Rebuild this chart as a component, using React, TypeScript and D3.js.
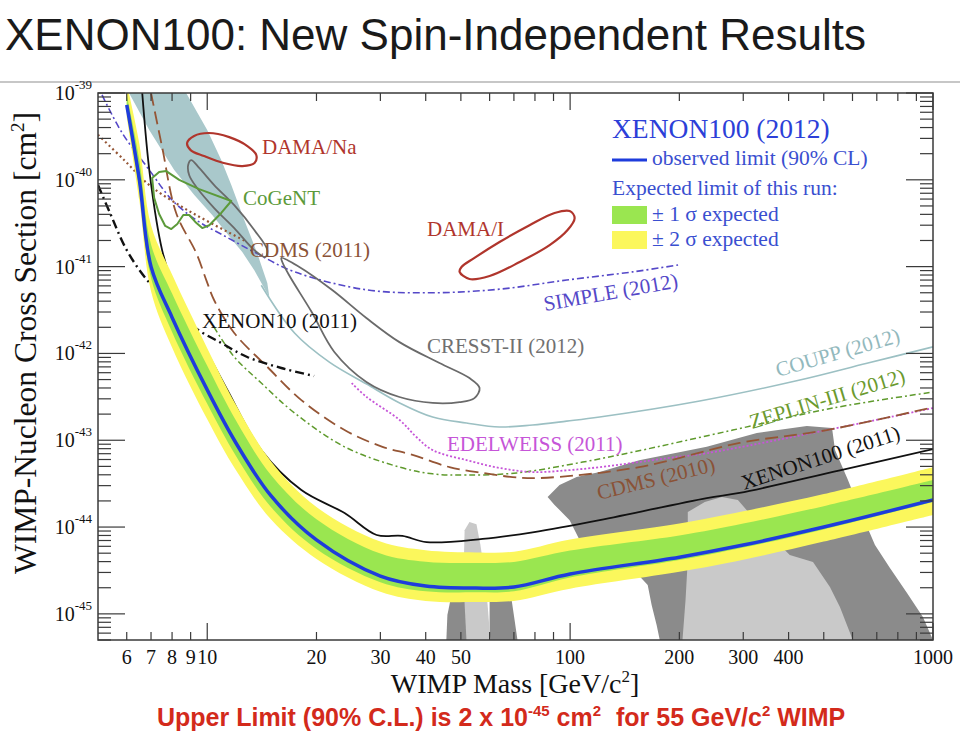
import React from 'react';
import * as d3 from 'd3';

type Pt = [number, number];

// XENON100 (2012) observed limit and expected bands, sampled at these masses [GeV]
const bandMass = [6, 6.5, 7, 8, 10, 12, 15, 20, 30, 40, 55, 70, 100, 200, 300, 500, 1000];
const observed = [7.3e-40, 1.0e-40, 1.0e-41, 2.6e-42, 3.8e-43, 9.3e-44, 2.28e-44, 7.1e-45, 2.72e-45, 2.09e-45, 1.98e-45, 2.04e-45, 2.88e-45, 4.5e-45, 6.2e-45, 1.0e-44, 2.05e-44];
const sigma2Hi = [1.29e-39, 2.6e-40, 3.0e-41, 8.1e-42, 1.15e-42, 2.56e-43, 5.7e-44, 1.7e-44, 6.8e-45, 5.4e-45, 5.1e-45, 5.2e-45, 7.2e-45, 1.1e-44, 1.52e-44, 2.4e-44, 4.9e-44];
const sigma1Hi = [9.6e-40, 1.7e-40, 1.8e-41, 4.9e-42, 7.2e-43, 1.69e-43, 3.95e-44, 1.23e-44, 4.95e-45, 3.98e-45, 3.86e-45, 3.97e-45, 5.36e-45, 8.0e-45, 1.1e-44, 1.74e-44, 3.48e-44];
const sigma1Lo = [6.3e-40, 7.8e-41, 7.4e-42, 1.77e-42, 2.63e-43, 6.6e-44, 1.69e-44, 5.6e-45, 2.32e-45, 1.82e-45, 1.77e-45, 1.82e-45, 2.62e-45, 4.16e-45, 5.8e-45, 9.4e-45, 1.95e-44];
const sigma2Lo = [5.3e-40, 5.8e-41, 5.2e-42, 1.17e-42, 1.74e-43, 4.5e-44, 1.22e-44, 4.3e-45, 1.8e-45, 1.41e-45, 1.37e-45, 1.41e-45, 1.95e-45, 3.05e-45, 4.2e-45, 6.8e-45, 1.38e-44];

// other experiments: [mass GeV, cross section cm2]
const xenon100_2011: Pt[] = [[6.62, 1e-39], [6.96, 1.08e-40], [7.51, 1.55e-41], [7.96, 7.0e-42], [9.21, 2.01e-42], [11.36, 3.79e-43], [14.09, 7.7e-44], [18.17, 2.67e-44], [23.9, 1.45e-44], [29.3, 8.1e-45], [34.5, 7.9e-45], [40.2, 6.7e-45], [57.4, 7.3e-45], [78.8, 8.7e-45], [120.6, 1.2e-44], [238, 2.16e-44], [293, 2.47e-44], [554, 4.5e-44], [1000, 7.9e-44]];
const xenon10_2011: Pt[] = [[5.0, 8.7e-41], [5.43, 3.9e-41], [6.0, 1.55e-41], [6.83, 7.0e-42], [8.11, 3.4e-42], [9.21, 2.0e-42], [10.93, 1.32e-42], [12.89, 9.1e-43], [16.0, 6.8e-43], [19.7, 5.5e-43]];
const cdms2010: Pt[] = [[7.0, 1e-39], [7.51, 2.39e-40], [8.21, 4.15e-41], [9.33, 1.43e-41], [9.94, 7.0e-42], [10.45, 4.1e-42], [11.87, 1.72e-42], [14.64, 7.0e-43], [18.17, 2.9e-43], [23.9, 1.31e-43], [30.4, 8.4e-44], [36.8, 6.8e-44], [46.5, 4.9e-44], [57.4, 4.2e-44], [69.4, 3.77e-44], [82.4, 3.67e-44], [155, 4.9e-44], [293, 9.3e-44], [510, 1.31e-43], [1000, 2.4e-43]];
const cdms2011: Pt[] = [[5.0, 3.3e-40], [5.9, 1.69e-40], [6.92, 8.7e-41], [8.37, 5.1e-41], [10.1, 3.27e-41], [12.65, 2.0e-41]];
const simple2012: Pt[] = [[5.13, 9.5e-40], [5.83, 3.46e-40], [6.92, 1.3e-40], [8.0, 5.85e-41], [9.33, 3.44e-41], [11.28, 2.2e-41], [13.65, 1.43e-41], [17.4, 8.7e-42], [27.5, 5.4e-42], [41.8, 5.0e-42], [63.9, 5.5e-42], [97.8, 7.0e-42], [148.8, 8.7e-42], [200, 1.05e-41]];
const coupp2012: Pt[] = [[14.09, 6.1e-42], [17.4, 1.72e-42], [21.7, 7.95e-43], [27.5, 4.44e-43], [33.9, 2.69e-43], [41.8, 1.85e-43], [51.8, 1.58e-43], [63.9, 1.42e-43], [78.8, 1.5e-43], [97.8, 1.66e-43], [120.6, 1.85e-43], [227.6, 2.83e-43], [429.7, 4.94e-43], [657.5, 7.7e-43], [1000, 1.19e-42]];
const edelweiss2011: Pt[] = [[25, 4.56e-43], [27.5, 3.15e-43], [33.9, 1.71e-43], [37.7, 1.09e-43], [41.8, 7.7e-44], [51.8, 5.9e-44], [63.9, 4.8e-44], [78.8, 4.3e-44], [97.8, 4.5e-44], [120.6, 4.9e-44], [184.6, 6.2e-44], [238, 7.1e-44], [510, 1.31e-43], [1000, 2.35e-43]];
const zeplin2012: Pt[] = [[10.45, 2.0e-42], [11.87, 9.1e-43], [14.09, 4.56e-43], [17.4, 2.06e-43], [23.9, 8.4e-44], [33.9, 4.9e-44], [41.8, 4.1e-44], [51.8, 3.97e-44], [71.2, 4.2e-44], [108.3, 5.6e-44], [148.8, 7.3e-44], [280.7, 1.31e-43], [529.8, 2.35e-43], [1000, 3.59e-43]];

// signal regions (closed contours)
const damaNa: Pt[] = [[8.8, 2.65e-40], [9.2, 3.2e-40], [10.1, 3.46e-40], [11.5, 3.1e-40], [12.9, 2.45e-40], [13.65, 1.93e-40], [13.5, 1.56e-40], [12.5, 1.44e-40], [11.1, 1.56e-40], [9.8, 1.88e-40], [9.0, 2.2e-40]];
const damaI: Pt[] = [[49.6, 8.7e-42], [52.8, 7.2e-42], [60.0, 7.8e-42], [72.6, 1.13e-41], [87.8, 1.77e-41], [98.4, 2.64e-41], [102.9, 3.63e-41], [99.7, 4.37e-41], [90.6, 4.15e-41], [77.3, 3.0e-41], [63.9, 1.92e-41], [54.5, 1.26e-41], [50.2, 9.9e-42]];
const cogent: Pt[] = [[7.05, 1.05e-40], [7.37, 1.23e-40], [7.71, 1.26e-40], [8.37, 1.0e-40], [9.5, 7.8e-41], [11.65, 5.7e-41], [10.93, 4.15e-41], [10.13, 3.0e-41], [9.69, 2.78e-41], [9.27, 3.27e-41], [8.92, 3.93e-41], [8.59, 3.93e-41], [8.27, 3.1e-41], [7.96, 2.71e-41], [7.66, 2.94e-41], [7.37, 4.04e-41], [7.14, 6.2e-41]];
const cresstUpper: Pt[] = [[8.86, 1.48e-40], [9.03, 1.69e-40], [9.5, 1.37e-40], [10.45, 8.7e-41], [11.87, 5.1e-41], [13.48, 2.64e-41], [14.64, 1.55e-41], [14.45, 1.29e-41], [13.48, 1.55e-41], [11.87, 2.78e-41], [10.45, 4.73e-41], [9.38, 8.05e-41], [8.92, 1.13e-40]];
const cresstLower: Pt[] = [[16.0, 1.26e-41], [17.94, 9.9e-42], [22.1, 5.37e-42], [27.45, 2.56e-42], [33.86, 1.35e-42], [43.65, 7.75e-43], [52.8, 5.2e-43], [56.3, 4.0e-43], [54.5, 3.06e-43], [49.6, 2.75e-43], [41.8, 2.69e-43], [33.86, 3.15e-43], [27.45, 4.7e-43], [22.4, 1.04e-42], [19.4, 3.0e-42], [16.8, 8.0e-42], [16.1, 1.13e-41]];
const tealRegion: Pt[] = [[6.09, 1e-39], [6.92, 3.75e-40], [8.11, 1.3e-40], [9.21, 6.7e-41], [10.32, 3.93e-41], [11.72, 2.02e-41], [12.49, 1.47e-41], [13.48, 9.1e-42], [14.45, 5.37e-42], [14.83, 4.46e-42], [14.64, 6.47e-42], [13.73, 1.43e-41], [12.65, 3.44e-41], [11.65, 8.7e-41], [10.93, 1.69e-40], [10.0, 3.75e-40], [8.75, 1e-39]];

// theory regions (gray)
const darkGrayMain: Pt[] = [[86.7, 2.22e-44], [93.5, 3.05e-44], [104.2, 3.77e-44], [120.6, 4.3e-44], [155, 5.9e-44], [238, 8.4e-44], [327, 1.21e-43], [449, 1.46e-43], [527, 1.38e-43], [537, 7.7e-44], [583, 3.48e-44], [629, 1.57e-44], [692, 6.2e-45], [761, 3.37e-45], [848, 1.74e-45], [938, 9.2e-46], [1000, 5e-46], [176.6, 5e-46], [173.2, 7.4e-46], [167.8, 1.26e-45], [163.6, 2.15e-45], [137, 4.75e-45], [106.2, 7.1e-45], [99.7, 1.2e-44], [90.6, 1.8e-44]];
const lightGrayMain: Pt[] = [[211, 1.49e-44], [235, 1.94e-44], [262, 2.22e-44], [290, 2.05e-44], [333, 1.05e-44], [403, 4.75e-45], [467, 3.95e-45], [520, 2.04e-45], [554, 1.2e-45], [601, 5e-46], [204, 5e-46], [208, 1.44e-45], [211, 4.17e-45]];
const lightGrayPillar: Pt[] = [[51.2, 9.2e-45], [52.8, 1.14e-44], [55.2, 1.08e-44], [56.6, 6.2e-45], [58.5, 2.45e-45], [60.3, 5e-46], [51.8, 5e-46], [50.8, 2.45e-45]];
const darkGrayPillarL: Pt[] = [[45.6, 5e-46], [45.9, 9.7e-46], [47.1, 1.65e-45], [49.6, 2.8e-45], [52.8, 2.8e-45], [52.8, 5e-46]];
const darkGrayPillarR: Pt[] = [[60, 2.8e-45], [68.1, 2.8e-45], [69, 1.44e-45], [70.3, 8.5e-46], [71.6, 5e-46], [60, 5e-46]];

const xTickLabels = [6, 7, 8, 9, 10, 20, 30, 40, 50, 100, 200, 300, 400, 1000];
const yTickExps = [-45, -44, -43, -42, -41, -40, -39];

const serif = '"Liberation Serif", "DejaVu Serif", serif';
const sans = '"Liberation Sans", Arial, sans-serif';

export default function App() {
  const L = 98, R = 933, T = 93, B = 640;
  const x = d3.scaleLog().domain([5, 1000]).range([L, R]);
  const y = d3.scaleLog().domain([5e-46, 1e-39]).range([B, T]);

  const line = d3.line<Pt>().x(d => x(d[0])).y(d => y(d[1])).curve(d3.curveCatmullRom);
  const contour = d3.line<Pt>().x(d => x(d[0])).y(d => y(d[1])).curve(d3.curveCatmullRomClosed);
  const poly = d3.line<Pt>().x(d => x(d[0])).y(d => y(d[1])).curve(d3.curveLinearClosed);
  const band = (lo: number[], hi: number[]) =>
    d3.area<number>()
      .x(m => x(m))
      .y0((_, i) => y(lo[i]))
      .y1((_, i) => y(hi[i]))
      .curve(d3.curveCatmullRom)(bandMass) || '';
  const obsLine = d3.line<number>().x(m => x(m)).y((_, i) => y(observed[i])).curve(d3.curveCatmullRom)(bandMass) || '';

  // log ticks
  const xMajor = [10, 100, 1000];
  const xMinor: number[] = [];
  [1, 10, 100].forEach(k => { for (let i = 2; i <= 9; i++) { const v = i * k; if (v > 5 && v < 1000) xMinor.push(v); } });
  const yMinor: number[] = [];
  for (let k = -46; k <= -40; k++) for (let i = 2; i <= 9; i++) { const v = i * Math.pow(10, k); if (v >= 5e-46 && v < 1e-39) yMinor.push(v); }

  const tickColor = '#3a3a3a';

  return (
    <div>
      <style>{'body{margin:0;background:#fff}'}</style>
      <svg width={960} height={740} style={{ display: 'block', background: '#fff' }}>
        <text x={5} y={50} fontFamily={sans} fontSize={44} fill="#1a1a1a">XENON100: New Spin-Independent Results</text>
        <line x1={0} x2={960} y1={82} y2={82} stroke="#b4b4b4" strokeWidth={1.5} />

        <defs>
          <clipPath id="plot"><rect x={L} y={T} width={R - L} height={B - T} /></clipPath>
        </defs>

        <g clipPath="url(#plot)">
          {/* theory regions */}
          <path d={poly(darkGrayMain) || ''} fill="#8b8b8b" />
          <path d={poly(lightGrayMain) || ''} fill="#c9c9c9" />
          <path d={poly(darkGrayPillarL) || ''} fill="#8b8b8b" />
          <path d={poly(darkGrayPillarR) || ''} fill="#8b8b8b" />
          <path d={poly(lightGrayPillar) || ''} fill="#c9c9c9" />
          <path d={poly(tealRegion) || ''} fill="#a9c8cb" />

          {/* other limits */}
          <path d={line(coupp2012) || ''} fill="none" stroke="#9cc0c3" strokeWidth={1.6} />
          <path d={line(simple2012) || ''} fill="none" stroke="#5548c8" strokeWidth={1.6} strokeDasharray="7,3,2,3" />
          <path d={line(cdms2011) || ''} fill="none" stroke="#955535" strokeWidth={2.2} strokeDasharray="2,3" />
          <path d={line(zeplin2012) || ''} fill="none" stroke="#5f9a2d" strokeWidth={1.5} strokeDasharray="6,3,2,3" />
          <path d={line(edelweiss2011) || ''} fill="none" stroke="#c655d8" strokeWidth={1.8} strokeDasharray="2,2" />
          <path d={line(cdms2010) || ''} fill="none" stroke="#955535" strokeWidth={1.8} strokeDasharray="13,6" />
          <path d={line(xenon10_2011) || ''} fill="none" stroke="#111" strokeWidth={2.4} strokeDasharray="9,4,2,4" />
          <path d={line(xenon100_2011) || ''} fill="none" stroke="#111" strokeWidth={1.8} />

          {/* signal contours */}
          <path d={contour(cresstUpper) || ''} fill="none" stroke="#6a6a6a" strokeWidth={1.8} />
          <path d={contour(cresstLower) || ''} fill="none" stroke="#6a6a6a" strokeWidth={1.8} />
          <path d={poly(cogent) || ''} fill="none" stroke="#5c9a3a" strokeWidth={2} strokeLinejoin="round" />
          <path d={contour(damaNa) || ''} fill="none" stroke="#b0352c" strokeWidth={2.2} />
          <path d={contour(damaI) || ''} fill="none" stroke="#b0352c" strokeWidth={2.2} />

          {/* XENON100 2012 */}
          <path d={band(sigma2Lo, sigma2Hi)} fill="#fbf75c" />
          <path d={band(sigma1Lo, sigma1Hi)} fill="#9ae650" />
          <path d={obsLine} fill="none" stroke="#1e3cdc" strokeWidth={3.5} />
        </g>

        {/* curve labels */}
        <g fontFamily={serif} fontSize={21}>
          <text x={262} y={154} fill="#b0352c">DAMA/Na</text>
          <text x={243} y={205} fill="#5c9a3a">CoGeNT</text>
          <text x={250} y={257} fill="#8a5236">CDMS (2011)</text>
          <text x={427} y={236} fill="#b0352c">DAMA/I</text>
          <text transform="translate(545,311) rotate(-10)" fill="#5548c8">SIMPLE (2012)</text>
          <text x={202} y={328} fill="#111">XENON10 (2011)</text>
          <text x={427} y={353} fill="#707070">CRESST-II (2012)</text>
          <text transform="translate(778,377) rotate(-16)" fill="#93b9bd">COUPP (2012)</text>
          <text transform="translate(752,429) rotate(-17)" fill="#6b9a2e">ZEPLIN-III (2012)</text>
          <text x={447} y={451} fill="#c655d8">EDELWEISS (2011)</text>
          <text transform="translate(599,500) rotate(-14)" fill="#8a5236">CDMS (2010)</text>
          <text transform="translate(744,490) rotate(-18)" fill="#111">XENON100 (2011)</text>
        </g>

        {/* legend */}
        <g fontFamily={serif}>
          <text x={612} y={138} fontSize={27.5} fill="#2c3fd8">XENON100 (2012)</text>
          <line x1={612} x2={647} y1={160} y2={160} stroke="#1e3cdc" strokeWidth={3} />
          <text x={652} y={165} fontSize={21.5} fill="#3a4fd0">observed limit (90% CL)</text>
          <text x={612} y={195} fontSize={21.5} fill="#3a4fd0">Expected limit of this run:</text>
          <rect x={612} y={206} width={35} height={18} fill="#9ae650" />
          <text x={652} y={221} fontSize={21.5} fill="#3a4fd0">± 1 σ expected</text>
          <rect x={612} y={231} width={35} height={18} fill="#fbf75c" />
          <text x={652} y={246} fontSize={21.5} fill="#3a4fd0">± 2 σ expected</text>
        </g>

        {/* frame and ticks */}
        <rect x={L} y={T} width={R - L} height={B - T} fill="none" stroke={tickColor} strokeWidth={1.5} />
        <g stroke={tickColor} strokeWidth={1.2}>
          {xMajor.map(v => (
            <g key={'xM' + v}>
              <line x1={x(v)} x2={x(v)} y1={B} y2={B - 17} />
              <line x1={x(v)} x2={x(v)} y1={T} y2={T + 17} />
            </g>
          ))}
          {xMinor.map(v => (
            <g key={'xm' + v}>
              <line x1={x(v)} x2={x(v)} y1={B} y2={B - 8} />
              <line x1={x(v)} x2={x(v)} y1={T} y2={T + 8} />
            </g>
          ))}
          {yTickExps.map(e => (
            <g key={'yM' + e}>
              <line x1={L} x2={L + 27} y1={y(Math.pow(10, e))} y2={y(Math.pow(10, e))} />
              <line x1={R} x2={R - 27} y1={y(Math.pow(10, e))} y2={y(Math.pow(10, e))} />
            </g>
          ))}
          {yMinor.map((v, i) => (
            <g key={'ym' + i}>
              <line x1={L} x2={L + 13} y1={y(v)} y2={y(v)} />
              <line x1={R} x2={R - 13} y1={y(v)} y2={y(v)} />
            </g>
          ))}
        </g>

        {/* tick labels */}
        <g fontFamily={serif} fill="#111">
          {xTickLabels.map(v => (
            <text key={'xl' + v} x={x(v)} y={664} fontSize={20} textAnchor="middle">{v}</text>
          ))}
          {yTickExps.map(e => (
            <text key={'yl' + e} x={92} y={y(Math.pow(10, e)) + 7} fontSize={20} textAnchor="end">
              10<tspan dy={-11} fontSize={13}>{String(e)}</tspan>
            </text>
          ))}
        </g>

        {/* axis titles */}
        <text x={515} y={693} fontFamily={serif} fontSize={28} textAnchor="middle" fill="#111">
          WIMP Mass [GeV/c<tspan dy={-11} fontSize={17}>2</tspan><tspan dy={11}>]</tspan>
        </text>
        <text transform="translate(36,343) rotate(-90)" fontFamily={serif} fontSize={31.5} textAnchor="middle" fill="#111">
          WIMP-Nucleon Cross Section [cm<tspan dy={-12} fontSize={19}>2</tspan><tspan dy={12}>]</tspan>
        </text>

        <text x={157} y={726} fontFamily={sans} fontWeight="bold" fontSize={25} fill="#d32a1b">
          Upper Limit (90% C.L.) is 2 x 10<tspan dy={-10} fontSize={15}>-45</tspan>
          <tspan dy={10}> cm</tspan><tspan dy={-10} fontSize={15}>2</tspan>
          <tspan dy={10} dx={8}> for 55 GeV/c</tspan><tspan dy={-10} fontSize={15}>2</tspan>
          <tspan dy={10}> WIMP</tspan>
        </text>
      </svg>
    </div>
  );
}
